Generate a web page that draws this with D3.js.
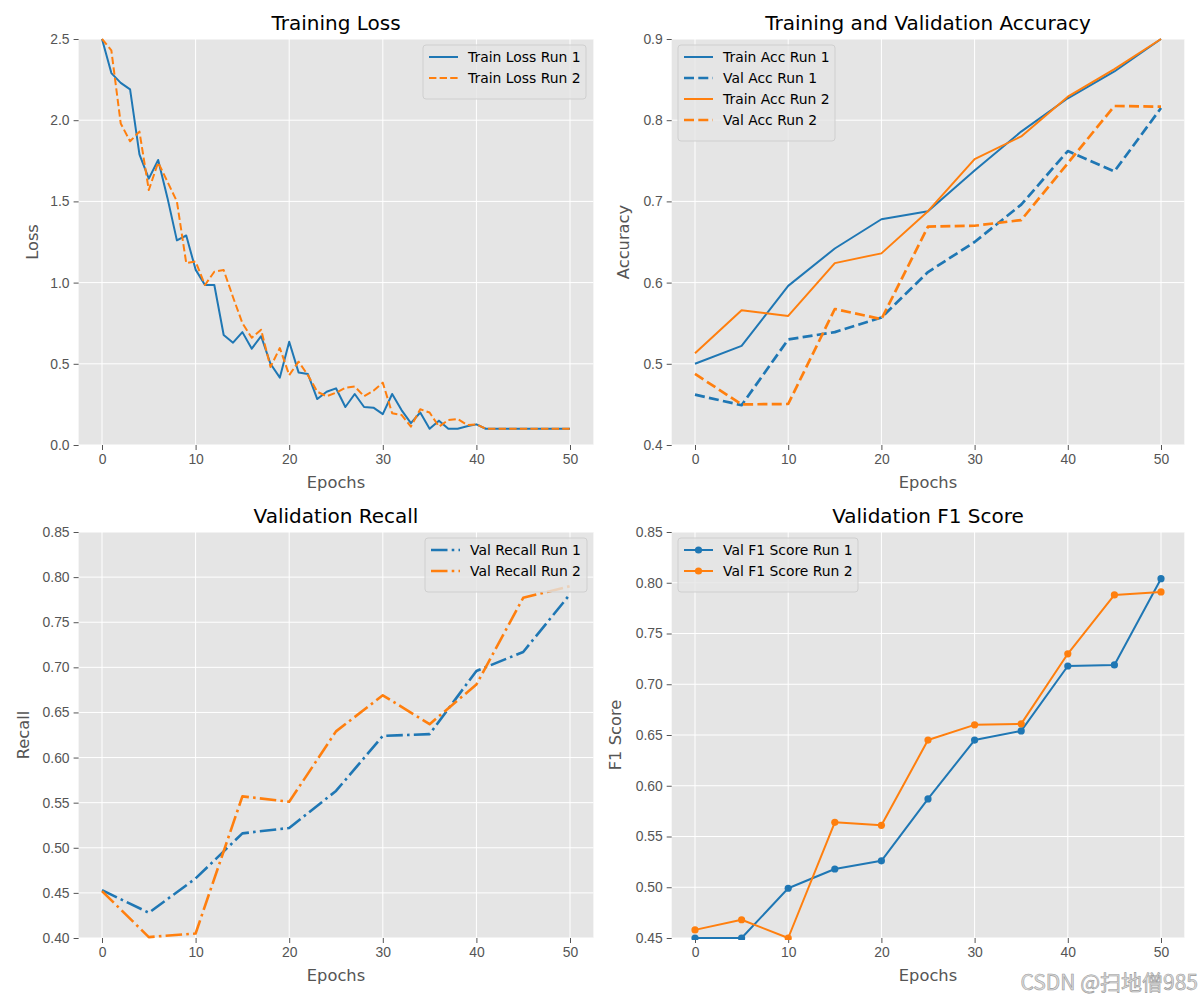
<!DOCTYPE html>
<html>
<head>
<meta charset="utf-8">
<script src="https://d3js.org/d3.v7.min.js"></script>
<style>
  body { margin: 0; background: #fff; }
  svg { font-family: "DejaVu Sans", sans-serif; }
  .tick text { fill: #555; font-size: 13.9px; }
  .tick line { stroke: #555; }
  .domain { display: none; }
</style>
</head>
<body>
<script>
// ---- data ----
var lossEpochs = d3.range(0, 51);
var trainLossRun1 = [2.50, 2.29, 2.23, 2.19, 1.79, 1.64, 1.755, 1.52, 1.26, 1.29,
  1.08, 0.985, 0.985, 0.677, 0.63, 0.695, 0.593, 0.67, 0.50, 0.415,
  0.636, 0.447, 0.437, 0.283, 0.328, 0.349, 0.234, 0.314, 0.234, 0.23,
  0.19, 0.314, 0.215, 0.135, 0.20, 0.10, 0.15, 0.10, 0.10, 0.115,
  0.127, 0.10, 0.10, 0.10, 0.10, 0.10, 0.10, 0.10, 0.10, 0.10, 0.10];
var trainLossRun2 = [2.50, 2.43, 1.98, 1.87, 1.93, 1.57, 1.74, 1.62, 1.50, 1.12,
  1.13, 0.985, 1.067, 1.077, 0.91, 0.75, 0.66, 0.71, 0.48, 0.597,
  0.43, 0.513, 0.43, 0.328, 0.30, 0.322, 0.353, 0.36, 0.30, 0.334,
  0.384, 0.195, 0.185, 0.113, 0.22, 0.20, 0.113, 0.154, 0.16, 0.123,
  0.127, 0.10, 0.10, 0.10, 0.10, 0.10, 0.10, 0.10, 0.10, 0.10, 0.10];

var valEpochs = [0, 5, 10, 15, 20, 25, 30, 35, 40, 45, 50];
var trainAccRun1 = [0.500, 0.522, 0.596, 0.642, 0.678, 0.688, 0.738, 0.786, 0.827, 0.860, 0.900];
var valAccRun1   = [0.462, 0.449, 0.530, 0.539, 0.557, 0.613, 0.650, 0.696, 0.762, 0.737, 0.815];
var trainAccRun2 = [0.513, 0.566, 0.559, 0.624, 0.636, 0.688, 0.752, 0.780, 0.829, 0.863, 0.900];
var valAccRun2   = [0.4875, 0.450, 0.4505, 0.5675, 0.555, 0.669, 0.670, 0.677, 0.747, 0.8175, 0.8167];

var recallRun1 = [0.453, 0.428, 0.466, 0.516, 0.522, 0.563, 0.624, 0.626, 0.696, 0.717, 0.781];
var recallRun2 = [0.452, 0.401, 0.405, 0.557, 0.551, 0.629, 0.669, 0.637, 0.681, 0.777, 0.790];

var f1Run1 = [0.450, 0.450, 0.499, 0.518, 0.526, 0.587, 0.645, 0.654, 0.718, 0.719, 0.804];
var f1Run2 = [0.458, 0.468, 0.450, 0.564, 0.561, 0.645, 0.660, 0.661, 0.730, 0.788, 0.791];

var xTicks = [0, 10, 20, 30, 40, 50];
var blue = "#1f77b4", orange = "#ff7f0e";

var svg = d3.select("body").append("svg")
    .attr("width", 1200)
    .attr("height", 1000);

// draw one subplot
function drawPanel(p) {
  var x = d3.scaleLinear().domain([-2.5, 52.5]).range([p.left, p.right]);
  var y = d3.scaleLinear().domain(p.yDomain).range([p.bottom, p.top]);
  var g = svg.append("g");

  g.append("rect")
    .attr("x", p.left).attr("y", p.top)
    .attr("width", p.right - p.left).attr("height", p.bottom - p.top)
    .attr("fill", "#e5e5e5");

  // grid
  g.selectAll(".gx").data(xTicks).enter().append("line")
    .attr("x1", d => x(d)).attr("x2", d => x(d))
    .attr("y1", p.top).attr("y2", p.bottom)
    .attr("stroke", "#fff").attr("stroke-width", 1);
  g.selectAll(".gy").data(p.yTicks).enter().append("line")
    .attr("x1", p.left).attr("x2", p.right)
    .attr("y1", d => y(d)).attr("y2", d => y(d))
    .attr("stroke", "#fff").attr("stroke-width", 1);

  g.append("g")
    .attr("transform", "translate(0," + p.bottom + ")")
    .call(d3.axisBottom(x).tickValues(xTicks).tickSize(5).tickPadding(4).tickFormat(d3.format("d")));
  g.append("g")
    .attr("transform", "translate(" + p.left + ",0)")
    .call(d3.axisLeft(y).tickValues(p.yTicks).tickSize(5).tickPadding(4).tickFormat(d3.format(p.fmt)));

  // titles and labels
  g.append("text")
    .attr("x", (p.left + p.right) / 2).attr("y", p.top - 9)
    .attr("text-anchor", "middle").attr("font-size", 20).attr("fill", "#000")
    .text(p.title);
  g.append("text")
    .attr("x", (p.left + p.right) / 2).attr("y", p.bottom + 43)
    .attr("text-anchor", "middle").attr("font-size", 16.3).attr("fill", "#555")
    .text("Epochs");
  g.append("text")
    .attr("transform", "translate(" + (p.left - p.ylabelOffset) + "," + ((p.top + p.bottom) / 2) + ") rotate(-90)")
    .attr("text-anchor", "middle").attr("font-size", 16.3).attr("fill", "#555")
    .text(p.ylabel);

  var clipId = "clip" + Math.round(p.left) + "_" + Math.round(p.top);
  g.append("clipPath").attr("id", clipId).append("rect")
    .attr("x", p.left).attr("y", p.top - 2)
    .attr("width", p.right - p.left).attr("height", p.bottom - p.top + 4);

  var line = d3.line().x(d => x(d[0])).y(d => y(d[1]));
  var plot = g.append("g").attr("clip-path", "url(#" + clipId + ")");

  p.series.forEach(function (s) {
    var pts = s.xs.map((e, i) => [e, s.ys[i]]);
    plot.append("path")
      .attr("d", line(pts))
      .attr("fill", "none")
      .attr("stroke", s.color)
      .attr("stroke-width", s.width)
      .attr("stroke-dasharray", s.dash || null)
      .attr("stroke-linejoin", "round");
    if (s.marker) {
      plot.selectAll(null).data(pts).enter().append("circle")
        .attr("cx", d => x(d[0])).attr("cy", d => y(d[1]))
        .attr("r", 3.6).attr("fill", s.color);
    }
  });

  // legend
  var L = p.legend;
  var lg = g.append("g");
  lg.append("rect")
    .attr("x", L.x).attr("y", L.y)
    .attr("width", L.w).attr("height", 12 + p.series.length * 21)
    .attr("rx", 3)
    .attr("fill", "#e5e5e5").attr("fill-opacity", 0.8)
    .attr("stroke", "#cfcfcf").attr("stroke-width", 1);
  p.series.forEach(function (s, i) {
    var yy = L.y + 12 + i * 21;
    lg.append("line")
      .attr("x1", L.x + 6).attr("x2", L.x + 35)
      .attr("y1", yy).attr("y2", yy)
      .attr("stroke", s.color).attr("stroke-width", s.width)
      .attr("stroke-dasharray", s.dash || null);
    if (s.marker) {
      lg.append("circle").attr("cx", L.x + 20.5).attr("cy", yy).attr("r", 3.6).attr("fill", s.color);
    }
    lg.append("text")
      .attr("x", L.x + 45).attr("y", yy + 5)
      .attr("font-size", 13.9).attr("fill", "#000")
      .text(s.label);
  });
}

var L1 = 78.6, R1 = 593.4, L2 = 671.7, R2 = 1184.3;
var T1 = 39, B1 = 445, T2 = 532, B2 = 938;

drawPanel({
  left: L1, right: R1, top: T1, bottom: B1,
  yDomain: [0, 2.5], yTicks: [0, 0.5, 1.0, 1.5, 2.0, 2.5], fmt: ".1f",
  title: "Training Loss", ylabel: "Loss", ylabelOffset: 41,
  legend: { x: 423, y: 45, w: 163 },
  series: [
    { label: "Train Loss Run 1", xs: lossEpochs, ys: trainLossRun1, color: blue, width: 2 },
    { label: "Train Loss Run 2", xs: lossEpochs, ys: trainLossRun2, color: orange, width: 2, dash: "7.4,3.2" }
  ]
});

drawPanel({
  left: L2, right: R2, top: T1, bottom: B1,
  yDomain: [0.4, 0.9], yTicks: [0.4, 0.5, 0.6, 0.7, 0.8, 0.9], fmt: ".1f",
  title: "Training and Validation Accuracy", ylabel: "Accuracy", ylabelOffset: 43,
  legend: { x: 678, y: 45, w: 157 },
  series: [
    { label: "Train Acc Run 1", xs: valEpochs, ys: trainAccRun1, color: blue, width: 2 },
    { label: "Val Acc Run 1", xs: valEpochs, ys: valAccRun1, color: blue, width: 2.7, dash: "10,4.3" },
    { label: "Train Acc Run 2", xs: valEpochs, ys: trainAccRun2, color: orange, width: 2 },
    { label: "Val Acc Run 2", xs: valEpochs, ys: valAccRun2, color: orange, width: 2.7, dash: "10,4.3" }
  ]
});

drawPanel({
  left: L1, right: R1, top: T2, bottom: B2,
  yDomain: [0.4, 0.85], yTicks: [0.40, 0.45, 0.50, 0.55, 0.60, 0.65, 0.70, 0.75, 0.80, 0.85], fmt: ".2f",
  title: "Validation Recall", ylabel: "Recall", ylabelOffset: 50,
  legend: { x: 425, y: 538, w: 162 },
  series: [
    { label: "Val Recall Run 1", xs: valEpochs, ys: recallRun1, color: blue, width: 2.6, dash: "16.5,4.2,2.6,4.2" },
    { label: "Val Recall Run 2", xs: valEpochs, ys: recallRun2, color: orange, width: 2.6, dash: "16.5,4.2,2.6,4.2" }
  ]
});

drawPanel({
  left: L2, right: R2, top: T2, bottom: B2,
  yDomain: [0.45, 0.85], yTicks: [0.45, 0.50, 0.55, 0.60, 0.65, 0.70, 0.75, 0.80, 0.85], fmt: ".2f",
  title: "Validation F1 Score", ylabel: "F1 Score", ylabelOffset: 51,
  legend: { x: 678, y: 538, w: 180 },
  series: [
    { label: "Val F1 Score Run 1", xs: valEpochs, ys: f1Run1, color: blue, width: 2, marker: true },
    { label: "Val F1 Score Run 2", xs: valEpochs, ys: f1Run2, color: orange, width: 2, marker: true }
  ]
});

// watermark
svg.append("text")
  .attr("x", 1198).attr("y", 990)
  .attr("text-anchor", "end")
  .attr("font-family", "'Noto Sans CJK SC', 'DejaVu Sans', sans-serif")
  .attr("font-size", 21)
  .attr("fill", "#dcdcdc")
  .attr("stroke", "#9a9a9a").attr("stroke-width", 0.6)
  .text("CSDN @扫地僧985");
</script>
</body>
</html>
